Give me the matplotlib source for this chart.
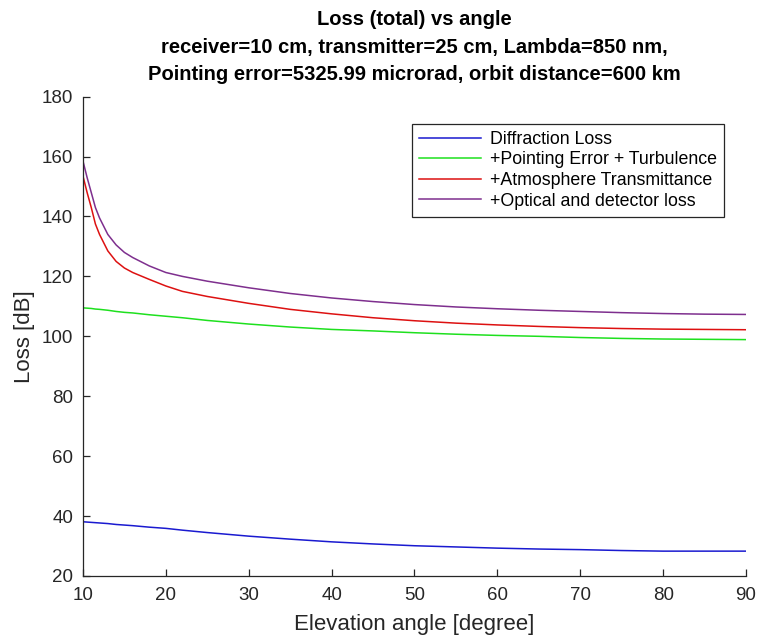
import matplotlib
matplotlib.use('Agg')
import matplotlib.pyplot as plt

plt.rcParams['font.family']=['Liberation Sans','DejaVu Sans']

# elevation angle [degree]
angle=[10,10.5,11,11.5,12,13,14,15,16,18,20,22,25,30,35,40,45,50,55,60,65,70,75,80,85,90]

diffraction=[38.1,38.0,37.9,37.8,37.7,37.5,37.2,37.0,36.8,36.3,35.9,35.3,34.5,33.3,32.3,31.4,30.7,30.1,29.7,29.3,29.0,28.8,28.5,28.3,28.3,28.3]
pointing=[109.5,109.4,109.3,109.1,109.0,108.7,108.3,108.0,107.8,107.2,106.7,106.2,105.3,104.1,103.1,102.3,101.8,101.2,100.7,100.3,100.0,99.6,99.3,99.1,99.0,98.9]
atmosphere=[153.5,148,143,137.5,134,128.5,125,122.8,121.3,119.0,116.8,115.0,113.3,111.0,109.0,107.5,106.2,105.2,104.4,103.8,103.3,102.9,102.6,102.4,102.3,102.2]
optical=[158.5,153,148,143,139.5,134,130.5,128,126.3,123.5,121.3,120.0,118.4,116.2,114.3,112.8,111.6,110.6,109.8,109.2,108.7,108.3,107.9,107.6,107.4,107.3]

labels=['Diffraction Loss','+Pointing Error + Turbulence','+Atmosphere Transmittance','+Optical and detector loss']
title_lines=['Loss (total) vs angle',
             'receiver=10 cm, transmitter=25 cm, Lambda=850 nm,',
             'Pointing error=5325.99 microrad, orbit distance=600 km']

fig=plt.figure(figsize=(7.57,6.4),dpi=100)
ax=fig.add_axes([0.1096,0.1,0.8759,0.749])

ax.plot(angle,diffraction,color='#1a1ad0',lw=1.1,label=labels[0])
ax.plot(angle,pointing,color='#1ee01e',lw=1.1,label=labels[1])
ax.plot(angle,atmosphere,color='#dd1111',lw=1.1,label=labels[2])
ax.plot(angle,optical,color='#7e2f8e',lw=1.1,label=labels[3])

ax.set_xlim(10,90)
ax.set_ylim(20,180)
ax.set_xticks(range(10,91,10))
ax.set_yticks(range(20,181,20))
ax.spines['top'].set_visible(False)
ax.spines['right'].set_visible(False)
for s in ['left','bottom']:
    ax.spines[s].set_color('#262626')
    ax.spines[s].set_linewidth(0.9)
ax.tick_params(direction='in',length=5,width=0.9,colors='#262626',labelsize=13.5)
ax.tick_params(axis='x',pad=8)
ax.tick_params(axis='y',pad=7)

ax.set_xlabel('Elevation angle [degree]',fontsize=16,color='#262626',labelpad=7)
ax.set_ylabel('Loss [dB]',fontsize=16,color='#262626',labelpad=5)
ax.set_title('\n'.join(title_lines),fontsize=14.5,fontweight='bold',linespacing=1.56,pad=12)

leg=ax.legend(loc='upper right',bbox_to_anchor=(0.98,0.962),fontsize=12.8,
              handlelength=3.5,handletextpad=0.5,labelspacing=0.2,borderpad=0.4,
              fancybox=False,framealpha=1,edgecolor='#262626')
leg.get_frame().set_linewidth(0.9)

plt.savefig('out.png',dpi=100)
